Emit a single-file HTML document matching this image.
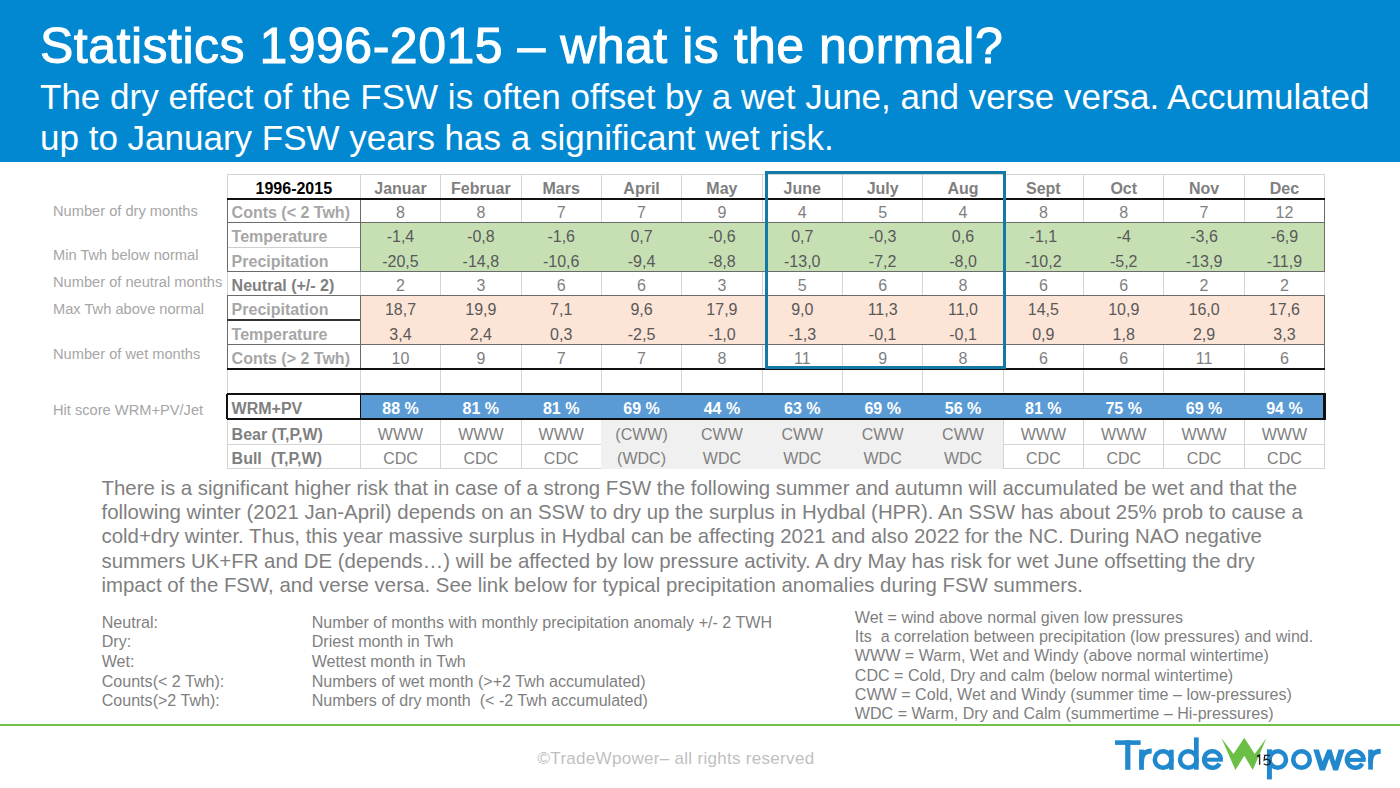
<!DOCTYPE html>
<html><head><meta charset="utf-8">
<style>
html,body{margin:0;padding:0;}
body{width:1400px;height:788px;position:relative;overflow:hidden;background:#fff;font-family:"Liberation Sans",sans-serif;}
.b{position:absolute;}
.t{position:absolute;font-size:16px;line-height:20px;white-space:nowrap;}
.a{position:absolute;white-space:nowrap;}
#hdr{position:absolute;left:0;top:0;width:1400px;height:162px;background:#0288d1;}
</style></head><body>
<div id="hdr"></div>
<div class="a" style="left:40px;top:16.4px;font-size:50px;line-height:60px;letter-spacing:0.5px;color:#fff;-webkit-text-stroke:1px #fff">Statistics 1996-2015 – what is the normal?</div>
<div class="a" style="left:40px;top:76.4px;font-size:35px;line-height:41px;color:#fff">The dry effect of the FSW is often offset by a wet June, and verse versa. Accumulated<br>up to January FSW years has a significant wet risk.</div>

<div class="a" style="left:53px;top:201px;font-size:14.65px;line-height:20px;color:#a6a6a6">Number of dry months</div>
<div class="a" style="left:53px;top:245.2px;font-size:14.65px;line-height:20px;color:#a6a6a6">Min Twh below normal</div>
<div class="a" style="left:53px;top:271.6px;font-size:14.65px;line-height:20px;color:#a6a6a6">Number of neutral months</div>
<div class="a" style="left:53px;top:298.5px;font-size:14.65px;line-height:20px;color:#a6a6a6">Max Twh above normal</div>
<div class="a" style="left:53px;top:343.8px;font-size:14.65px;line-height:20px;color:#a6a6a6">Number of wet months</div>
<div class="a" style="left:53px;top:400px;font-size:14.65px;line-height:20px;color:#a6a6a6">Hit score WRM+PV/Jet</div>

<div class="b" style="left:360.30px;top:222.50px;width:964.32px;height:49.00px;background:#c6e0b4"></div>
<div class="b" style="left:360.30px;top:295.50px;width:964.32px;height:49.00px;background:#fce4d6"></div>
<div class="b" style="left:360.30px;top:394.00px;width:964.32px;height:25.00px;background:#5b9bd5"></div>
<div class="b" style="left:601.38px;top:419.00px;width:401.80px;height:49.50px;background:#f0f0f0"></div>
<div class="b" style="left:227.30px;top:173.50px;width:1097.32px;height:1.00px;background:#d4d4d4"></div>
<div class="b" style="left:226.80px;top:174.00px;width:1.00px;height:24.50px;background:#d4d4d4"></div>
<div class="b" style="left:359.80px;top:174.00px;width:1.00px;height:24.50px;background:#d4d4d4"></div>
<div class="b" style="left:440.16px;top:174.00px;width:1.00px;height:24.50px;background:#d4d4d4"></div>
<div class="b" style="left:520.52px;top:174.00px;width:1.00px;height:24.50px;background:#d4d4d4"></div>
<div class="b" style="left:600.88px;top:174.00px;width:1.00px;height:24.50px;background:#d4d4d4"></div>
<div class="b" style="left:681.24px;top:174.00px;width:1.00px;height:24.50px;background:#d4d4d4"></div>
<div class="b" style="left:761.60px;top:174.00px;width:1.00px;height:24.50px;background:#d4d4d4"></div>
<div class="b" style="left:841.96px;top:174.00px;width:1.00px;height:24.50px;background:#d4d4d4"></div>
<div class="b" style="left:922.32px;top:174.00px;width:1.00px;height:24.50px;background:#d4d4d4"></div>
<div class="b" style="left:1002.68px;top:174.00px;width:1.00px;height:24.50px;background:#d4d4d4"></div>
<div class="b" style="left:1083.04px;top:174.00px;width:1.00px;height:24.50px;background:#d4d4d4"></div>
<div class="b" style="left:1163.40px;top:174.00px;width:1.00px;height:24.50px;background:#d4d4d4"></div>
<div class="b" style="left:1243.76px;top:174.00px;width:1.00px;height:24.50px;background:#d4d4d4"></div>
<div class="b" style="left:1324.12px;top:174.00px;width:1.00px;height:24.50px;background:#d4d4d4"></div>
<div class="b" style="left:226.80px;top:198.50px;width:1.00px;height:24.00px;background:#d4d4d4"></div>
<div class="b" style="left:359.80px;top:198.50px;width:1.00px;height:24.00px;background:#d4d4d4"></div>
<div class="b" style="left:440.16px;top:198.50px;width:1.00px;height:24.00px;background:#d4d4d4"></div>
<div class="b" style="left:520.52px;top:198.50px;width:1.00px;height:24.00px;background:#d4d4d4"></div>
<div class="b" style="left:600.88px;top:198.50px;width:1.00px;height:24.00px;background:#d4d4d4"></div>
<div class="b" style="left:681.24px;top:198.50px;width:1.00px;height:24.00px;background:#d4d4d4"></div>
<div class="b" style="left:761.60px;top:198.50px;width:1.00px;height:24.00px;background:#d4d4d4"></div>
<div class="b" style="left:841.96px;top:198.50px;width:1.00px;height:24.00px;background:#d4d4d4"></div>
<div class="b" style="left:922.32px;top:198.50px;width:1.00px;height:24.00px;background:#d4d4d4"></div>
<div class="b" style="left:1002.68px;top:198.50px;width:1.00px;height:24.00px;background:#d4d4d4"></div>
<div class="b" style="left:1083.04px;top:198.50px;width:1.00px;height:24.00px;background:#d4d4d4"></div>
<div class="b" style="left:1163.40px;top:198.50px;width:1.00px;height:24.00px;background:#d4d4d4"></div>
<div class="b" style="left:1243.76px;top:198.50px;width:1.00px;height:24.00px;background:#d4d4d4"></div>
<div class="b" style="left:1324.12px;top:198.50px;width:1.00px;height:24.00px;background:#d4d4d4"></div>
<div class="b" style="left:226.80px;top:271.50px;width:1.00px;height:24.00px;background:#d4d4d4"></div>
<div class="b" style="left:359.80px;top:271.50px;width:1.00px;height:24.00px;background:#d4d4d4"></div>
<div class="b" style="left:440.16px;top:271.50px;width:1.00px;height:24.00px;background:#d4d4d4"></div>
<div class="b" style="left:520.52px;top:271.50px;width:1.00px;height:24.00px;background:#d4d4d4"></div>
<div class="b" style="left:600.88px;top:271.50px;width:1.00px;height:24.00px;background:#d4d4d4"></div>
<div class="b" style="left:681.24px;top:271.50px;width:1.00px;height:24.00px;background:#d4d4d4"></div>
<div class="b" style="left:761.60px;top:271.50px;width:1.00px;height:24.00px;background:#d4d4d4"></div>
<div class="b" style="left:841.96px;top:271.50px;width:1.00px;height:24.00px;background:#d4d4d4"></div>
<div class="b" style="left:922.32px;top:271.50px;width:1.00px;height:24.00px;background:#d4d4d4"></div>
<div class="b" style="left:1002.68px;top:271.50px;width:1.00px;height:24.00px;background:#d4d4d4"></div>
<div class="b" style="left:1083.04px;top:271.50px;width:1.00px;height:24.00px;background:#d4d4d4"></div>
<div class="b" style="left:1163.40px;top:271.50px;width:1.00px;height:24.00px;background:#d4d4d4"></div>
<div class="b" style="left:1243.76px;top:271.50px;width:1.00px;height:24.00px;background:#d4d4d4"></div>
<div class="b" style="left:1324.12px;top:271.50px;width:1.00px;height:24.00px;background:#d4d4d4"></div>
<div class="b" style="left:226.80px;top:344.50px;width:1.00px;height:24.50px;background:#d4d4d4"></div>
<div class="b" style="left:359.80px;top:344.50px;width:1.00px;height:24.50px;background:#d4d4d4"></div>
<div class="b" style="left:440.16px;top:344.50px;width:1.00px;height:24.50px;background:#d4d4d4"></div>
<div class="b" style="left:520.52px;top:344.50px;width:1.00px;height:24.50px;background:#d4d4d4"></div>
<div class="b" style="left:600.88px;top:344.50px;width:1.00px;height:24.50px;background:#d4d4d4"></div>
<div class="b" style="left:681.24px;top:344.50px;width:1.00px;height:24.50px;background:#d4d4d4"></div>
<div class="b" style="left:761.60px;top:344.50px;width:1.00px;height:24.50px;background:#d4d4d4"></div>
<div class="b" style="left:841.96px;top:344.50px;width:1.00px;height:24.50px;background:#d4d4d4"></div>
<div class="b" style="left:922.32px;top:344.50px;width:1.00px;height:24.50px;background:#d4d4d4"></div>
<div class="b" style="left:1002.68px;top:344.50px;width:1.00px;height:24.50px;background:#d4d4d4"></div>
<div class="b" style="left:1083.04px;top:344.50px;width:1.00px;height:24.50px;background:#d4d4d4"></div>
<div class="b" style="left:1163.40px;top:344.50px;width:1.00px;height:24.50px;background:#d4d4d4"></div>
<div class="b" style="left:1243.76px;top:344.50px;width:1.00px;height:24.50px;background:#d4d4d4"></div>
<div class="b" style="left:1324.12px;top:344.50px;width:1.00px;height:24.50px;background:#d4d4d4"></div>
<div class="b" style="left:226.80px;top:369.00px;width:1.00px;height:25.00px;background:#d4d4d4"></div>
<div class="b" style="left:359.80px;top:369.00px;width:1.00px;height:25.00px;background:#d4d4d4"></div>
<div class="b" style="left:440.16px;top:369.00px;width:1.00px;height:25.00px;background:#d4d4d4"></div>
<div class="b" style="left:520.52px;top:369.00px;width:1.00px;height:25.00px;background:#d4d4d4"></div>
<div class="b" style="left:600.88px;top:369.00px;width:1.00px;height:25.00px;background:#d4d4d4"></div>
<div class="b" style="left:681.24px;top:369.00px;width:1.00px;height:25.00px;background:#d4d4d4"></div>
<div class="b" style="left:761.60px;top:369.00px;width:1.00px;height:25.00px;background:#d4d4d4"></div>
<div class="b" style="left:841.96px;top:369.00px;width:1.00px;height:25.00px;background:#d4d4d4"></div>
<div class="b" style="left:922.32px;top:369.00px;width:1.00px;height:25.00px;background:#d4d4d4"></div>
<div class="b" style="left:1002.68px;top:369.00px;width:1.00px;height:25.00px;background:#d4d4d4"></div>
<div class="b" style="left:1083.04px;top:369.00px;width:1.00px;height:25.00px;background:#d4d4d4"></div>
<div class="b" style="left:1163.40px;top:369.00px;width:1.00px;height:25.00px;background:#d4d4d4"></div>
<div class="b" style="left:1243.76px;top:369.00px;width:1.00px;height:25.00px;background:#d4d4d4"></div>
<div class="b" style="left:1324.12px;top:369.00px;width:1.00px;height:25.00px;background:#d4d4d4"></div>
<div class="b" style="left:226.80px;top:419.00px;width:1.00px;height:25.50px;background:#d4d4d4"></div>
<div class="b" style="left:359.80px;top:419.00px;width:1.00px;height:25.50px;background:#d4d4d4"></div>
<div class="b" style="left:440.16px;top:419.00px;width:1.00px;height:25.50px;background:#d4d4d4"></div>
<div class="b" style="left:520.52px;top:419.00px;width:1.00px;height:25.50px;background:#d4d4d4"></div>
<div class="b" style="left:922.32px;top:419.00px;width:1.00px;height:25.50px;background:#d4d4d4"></div>
<div class="b" style="left:1002.68px;top:419.00px;width:1.00px;height:25.50px;background:#d4d4d4"></div>
<div class="b" style="left:1083.04px;top:419.00px;width:1.00px;height:25.50px;background:#d4d4d4"></div>
<div class="b" style="left:1163.40px;top:419.00px;width:1.00px;height:25.50px;background:#d4d4d4"></div>
<div class="b" style="left:1243.76px;top:419.00px;width:1.00px;height:25.50px;background:#d4d4d4"></div>
<div class="b" style="left:1324.12px;top:419.00px;width:1.00px;height:25.50px;background:#d4d4d4"></div>
<div class="b" style="left:226.80px;top:444.50px;width:1.00px;height:24.00px;background:#d4d4d4"></div>
<div class="b" style="left:359.80px;top:444.50px;width:1.00px;height:24.00px;background:#d4d4d4"></div>
<div class="b" style="left:440.16px;top:444.50px;width:1.00px;height:24.00px;background:#d4d4d4"></div>
<div class="b" style="left:520.52px;top:444.50px;width:1.00px;height:24.00px;background:#d4d4d4"></div>
<div class="b" style="left:922.32px;top:444.50px;width:1.00px;height:24.00px;background:#d4d4d4"></div>
<div class="b" style="left:1002.68px;top:444.50px;width:1.00px;height:24.00px;background:#d4d4d4"></div>
<div class="b" style="left:1083.04px;top:444.50px;width:1.00px;height:24.00px;background:#d4d4d4"></div>
<div class="b" style="left:1163.40px;top:444.50px;width:1.00px;height:24.00px;background:#d4d4d4"></div>
<div class="b" style="left:1243.76px;top:444.50px;width:1.00px;height:24.00px;background:#d4d4d4"></div>
<div class="b" style="left:1324.12px;top:444.50px;width:1.00px;height:24.00px;background:#d4d4d4"></div>
<div class="b" style="left:227.30px;top:444.00px;width:1097.32px;height:1.00px;background:#d4d4d4"></div>
<div class="b" style="left:227.30px;top:444.00px;width:374.08px;height:1.00px;background:#d4d4d4"></div>
<div class="b" style="left:227.30px;top:468.00px;width:1097.32px;height:1.00px;background:#d4d4d4"></div>
<div class="b" style="left:227.30px;top:246.50px;width:133.00px;height:1.00px;background:#cfcfcf"></div>
<div class="b" style="left:226.65px;top:198.50px;width:1.30px;height:24.00px;background:#6b6b6b"></div>
<div class="b" style="left:359.65px;top:198.50px;width:1.30px;height:24.00px;background:#6b6b6b"></div>
<div class="b" style="left:1323.97px;top:198.50px;width:1.30px;height:24.00px;background:#6b6b6b"></div>
<div class="b" style="left:226.65px;top:222.50px;width:1.30px;height:49.00px;background:#6b6b6b"></div>
<div class="b" style="left:359.65px;top:222.50px;width:1.30px;height:49.00px;background:#6b6b6b"></div>
<div class="b" style="left:1323.97px;top:222.50px;width:1.30px;height:49.00px;background:#6b6b6b"></div>
<div class="b" style="left:226.65px;top:295.50px;width:1.30px;height:49.00px;background:#6b6b6b"></div>
<div class="b" style="left:359.65px;top:295.50px;width:1.30px;height:49.00px;background:#6b6b6b"></div>
<div class="b" style="left:1323.97px;top:295.50px;width:1.30px;height:49.00px;background:#6b6b6b"></div>
<div class="b" style="left:226.65px;top:344.50px;width:1.30px;height:24.50px;background:#6b6b6b"></div>
<div class="b" style="left:359.65px;top:344.50px;width:1.30px;height:24.50px;background:#6b6b6b"></div>
<div class="b" style="left:1323.97px;top:344.50px;width:1.30px;height:24.50px;background:#6b6b6b"></div>
<div class="b" style="left:227.30px;top:221.80px;width:1097.32px;height:1.40px;background:#6b6b6b"></div>
<div class="b" style="left:227.30px;top:270.80px;width:1097.32px;height:1.40px;background:#6b6b6b"></div>
<div class="b" style="left:227.30px;top:294.80px;width:1097.32px;height:1.40px;background:#6b6b6b"></div>
<div class="b" style="left:227.30px;top:343.80px;width:1097.32px;height:1.40px;background:#6b6b6b"></div>
<div class="b" style="left:227.30px;top:319.20px;width:133.00px;height:1.60px;background:#333"></div>
<div class="b" style="left:227.30px;top:197.50px;width:1097.32px;height:2.00px;background:#111"></div>
<div class="b" style="left:227.30px;top:368.00px;width:1097.32px;height:2.00px;background:#111"></div>
<div class="b" style="left:227.30px;top:393.00px;width:1098.32px;height:2.00px;background:#111"></div>
<div class="b" style="left:227.30px;top:417.90px;width:1098.32px;height:2.20px;background:#111"></div>
<div class="b" style="left:226.30px;top:394.00px;width:2.00px;height:25.00px;background:#111"></div>
<div class="b" style="left:359.55px;top:394.00px;width:1.50px;height:25.00px;background:#111"></div>
<div class="b" style="left:1323.37px;top:394.00px;width:2.50px;height:25.00px;background:#111"></div>
<div class="b" style="left:601.38px;top:420.10px;width:401.80px;height:48.90px;background:#f0f0f0"></div>
<div class="t" style="left:227.30px;width:133.00px;top:178.96px;color:#000;font-weight:bold;text-align:center">1996-2015</div>
<div class="t" style="left:360.30px;width:80.36px;top:178.96px;color:#7f7f7f;font-weight:bold;text-align:center">Januar</div>
<div class="t" style="left:440.66px;width:80.36px;top:178.96px;color:#7f7f7f;font-weight:bold;text-align:center">Februar</div>
<div class="t" style="left:521.02px;width:80.36px;top:178.96px;color:#7f7f7f;font-weight:bold;text-align:center">Mars</div>
<div class="t" style="left:601.38px;width:80.36px;top:178.96px;color:#7f7f7f;font-weight:bold;text-align:center">April</div>
<div class="t" style="left:681.74px;width:80.36px;top:178.96px;color:#7f7f7f;font-weight:bold;text-align:center">May</div>
<div class="t" style="left:762.10px;width:80.36px;top:178.96px;color:#7f7f7f;font-weight:bold;text-align:center">June</div>
<div class="t" style="left:842.46px;width:80.36px;top:178.96px;color:#7f7f7f;font-weight:bold;text-align:center">July</div>
<div class="t" style="left:922.82px;width:80.36px;top:178.96px;color:#7f7f7f;font-weight:bold;text-align:center">Aug</div>
<div class="t" style="left:1003.18px;width:80.36px;top:178.96px;color:#7f7f7f;font-weight:bold;text-align:center">Sept</div>
<div class="t" style="left:1083.54px;width:80.36px;top:178.96px;color:#7f7f7f;font-weight:bold;text-align:center">Oct</div>
<div class="t" style="left:1163.90px;width:80.36px;top:178.96px;color:#7f7f7f;font-weight:bold;text-align:center">Nov</div>
<div class="t" style="left:1244.26px;width:80.36px;top:178.96px;color:#7f7f7f;font-weight:bold;text-align:center">Dec</div>
<div class="t" style="left:231.60px;top:202.96px;color:#a6a6a6;font-weight:bold">Conts (< 2 Twh)</div>
<div class="t" style="left:360.30px;width:80.36px;top:202.96px;color:#7f7f7f;font-weight:normal;text-align:center">8</div>
<div class="t" style="left:440.66px;width:80.36px;top:202.96px;color:#7f7f7f;font-weight:normal;text-align:center">8</div>
<div class="t" style="left:521.02px;width:80.36px;top:202.96px;color:#7f7f7f;font-weight:normal;text-align:center">7</div>
<div class="t" style="left:601.38px;width:80.36px;top:202.96px;color:#7f7f7f;font-weight:normal;text-align:center">7</div>
<div class="t" style="left:681.74px;width:80.36px;top:202.96px;color:#7f7f7f;font-weight:normal;text-align:center">9</div>
<div class="t" style="left:762.10px;width:80.36px;top:202.96px;color:#7f7f7f;font-weight:normal;text-align:center">4</div>
<div class="t" style="left:842.46px;width:80.36px;top:202.96px;color:#7f7f7f;font-weight:normal;text-align:center">5</div>
<div class="t" style="left:922.82px;width:80.36px;top:202.96px;color:#7f7f7f;font-weight:normal;text-align:center">4</div>
<div class="t" style="left:1003.18px;width:80.36px;top:202.96px;color:#7f7f7f;font-weight:normal;text-align:center">8</div>
<div class="t" style="left:1083.54px;width:80.36px;top:202.96px;color:#7f7f7f;font-weight:normal;text-align:center">8</div>
<div class="t" style="left:1163.90px;width:80.36px;top:202.96px;color:#7f7f7f;font-weight:normal;text-align:center">7</div>
<div class="t" style="left:1244.26px;width:80.36px;top:202.96px;color:#7f7f7f;font-weight:normal;text-align:center">12</div>
<div class="t" style="left:231.60px;top:227.46px;color:#a6a6a6;font-weight:bold">Temperature</div>
<div class="t" style="left:360.30px;width:80.36px;top:227.46px;color:#595959;font-weight:normal;text-align:center">-1,4</div>
<div class="t" style="left:440.66px;width:80.36px;top:227.46px;color:#595959;font-weight:normal;text-align:center">-0,8</div>
<div class="t" style="left:521.02px;width:80.36px;top:227.46px;color:#595959;font-weight:normal;text-align:center">-1,6</div>
<div class="t" style="left:601.38px;width:80.36px;top:227.46px;color:#595959;font-weight:normal;text-align:center">0,7</div>
<div class="t" style="left:681.74px;width:80.36px;top:227.46px;color:#595959;font-weight:normal;text-align:center">-0,6</div>
<div class="t" style="left:762.10px;width:80.36px;top:227.46px;color:#595959;font-weight:normal;text-align:center">0,7</div>
<div class="t" style="left:842.46px;width:80.36px;top:227.46px;color:#595959;font-weight:normal;text-align:center">-0,3</div>
<div class="t" style="left:922.82px;width:80.36px;top:227.46px;color:#595959;font-weight:normal;text-align:center">0,6</div>
<div class="t" style="left:1003.18px;width:80.36px;top:227.46px;color:#595959;font-weight:normal;text-align:center">-1,1</div>
<div class="t" style="left:1083.54px;width:80.36px;top:227.46px;color:#595959;font-weight:normal;text-align:center">-4</div>
<div class="t" style="left:1163.90px;width:80.36px;top:227.46px;color:#595959;font-weight:normal;text-align:center">-3,6</div>
<div class="t" style="left:1244.26px;width:80.36px;top:227.46px;color:#595959;font-weight:normal;text-align:center">-6,9</div>
<div class="t" style="left:231.60px;top:251.96px;color:#a6a6a6;font-weight:bold">Precipitation</div>
<div class="t" style="left:360.30px;width:80.36px;top:251.96px;color:#595959;font-weight:normal;text-align:center">-20,5</div>
<div class="t" style="left:440.66px;width:80.36px;top:251.96px;color:#595959;font-weight:normal;text-align:center">-14,8</div>
<div class="t" style="left:521.02px;width:80.36px;top:251.96px;color:#595959;font-weight:normal;text-align:center">-10,6</div>
<div class="t" style="left:601.38px;width:80.36px;top:251.96px;color:#595959;font-weight:normal;text-align:center">-9,4</div>
<div class="t" style="left:681.74px;width:80.36px;top:251.96px;color:#595959;font-weight:normal;text-align:center">-8,8</div>
<div class="t" style="left:762.10px;width:80.36px;top:251.96px;color:#595959;font-weight:normal;text-align:center">-13,0</div>
<div class="t" style="left:842.46px;width:80.36px;top:251.96px;color:#595959;font-weight:normal;text-align:center">-7,2</div>
<div class="t" style="left:922.82px;width:80.36px;top:251.96px;color:#595959;font-weight:normal;text-align:center">-8,0</div>
<div class="t" style="left:1003.18px;width:80.36px;top:251.96px;color:#595959;font-weight:normal;text-align:center">-10,2</div>
<div class="t" style="left:1083.54px;width:80.36px;top:251.96px;color:#595959;font-weight:normal;text-align:center">-5,2</div>
<div class="t" style="left:1163.90px;width:80.36px;top:251.96px;color:#595959;font-weight:normal;text-align:center">-13,9</div>
<div class="t" style="left:1244.26px;width:80.36px;top:251.96px;color:#595959;font-weight:normal;text-align:center">-11,9</div>
<div class="t" style="left:231.60px;top:275.96px;color:#7f7f7f;font-weight:bold">Neutral (+/- 2)</div>
<div class="t" style="left:360.30px;width:80.36px;top:275.96px;color:#7f7f7f;font-weight:normal;text-align:center">2</div>
<div class="t" style="left:440.66px;width:80.36px;top:275.96px;color:#7f7f7f;font-weight:normal;text-align:center">3</div>
<div class="t" style="left:521.02px;width:80.36px;top:275.96px;color:#7f7f7f;font-weight:normal;text-align:center">6</div>
<div class="t" style="left:601.38px;width:80.36px;top:275.96px;color:#7f7f7f;font-weight:normal;text-align:center">6</div>
<div class="t" style="left:681.74px;width:80.36px;top:275.96px;color:#7f7f7f;font-weight:normal;text-align:center">3</div>
<div class="t" style="left:762.10px;width:80.36px;top:275.96px;color:#7f7f7f;font-weight:normal;text-align:center">5</div>
<div class="t" style="left:842.46px;width:80.36px;top:275.96px;color:#7f7f7f;font-weight:normal;text-align:center">6</div>
<div class="t" style="left:922.82px;width:80.36px;top:275.96px;color:#7f7f7f;font-weight:normal;text-align:center">8</div>
<div class="t" style="left:1003.18px;width:80.36px;top:275.96px;color:#7f7f7f;font-weight:normal;text-align:center">6</div>
<div class="t" style="left:1083.54px;width:80.36px;top:275.96px;color:#7f7f7f;font-weight:normal;text-align:center">6</div>
<div class="t" style="left:1163.90px;width:80.36px;top:275.96px;color:#7f7f7f;font-weight:normal;text-align:center">2</div>
<div class="t" style="left:1244.26px;width:80.36px;top:275.96px;color:#7f7f7f;font-weight:normal;text-align:center">2</div>
<div class="t" style="left:231.60px;top:300.46px;color:#a6a6a6;font-weight:bold">Precipitation</div>
<div class="t" style="left:360.30px;width:80.36px;top:300.46px;color:#595959;font-weight:normal;text-align:center">18,7</div>
<div class="t" style="left:440.66px;width:80.36px;top:300.46px;color:#595959;font-weight:normal;text-align:center">19,9</div>
<div class="t" style="left:521.02px;width:80.36px;top:300.46px;color:#595959;font-weight:normal;text-align:center">7,1</div>
<div class="t" style="left:601.38px;width:80.36px;top:300.46px;color:#595959;font-weight:normal;text-align:center">9,6</div>
<div class="t" style="left:681.74px;width:80.36px;top:300.46px;color:#595959;font-weight:normal;text-align:center">17,9</div>
<div class="t" style="left:762.10px;width:80.36px;top:300.46px;color:#595959;font-weight:normal;text-align:center">9,0</div>
<div class="t" style="left:842.46px;width:80.36px;top:300.46px;color:#595959;font-weight:normal;text-align:center">11,3</div>
<div class="t" style="left:922.82px;width:80.36px;top:300.46px;color:#595959;font-weight:normal;text-align:center">11,0</div>
<div class="t" style="left:1003.18px;width:80.36px;top:300.46px;color:#595959;font-weight:normal;text-align:center">14,5</div>
<div class="t" style="left:1083.54px;width:80.36px;top:300.46px;color:#595959;font-weight:normal;text-align:center">10,9</div>
<div class="t" style="left:1163.90px;width:80.36px;top:300.46px;color:#595959;font-weight:normal;text-align:center">16,0</div>
<div class="t" style="left:1244.26px;width:80.36px;top:300.46px;color:#595959;font-weight:normal;text-align:center">17,6</div>
<div class="t" style="left:231.60px;top:324.96px;color:#a6a6a6;font-weight:bold">Temperature</div>
<div class="t" style="left:360.30px;width:80.36px;top:324.96px;color:#595959;font-weight:normal;text-align:center">3,4</div>
<div class="t" style="left:440.66px;width:80.36px;top:324.96px;color:#595959;font-weight:normal;text-align:center">2,4</div>
<div class="t" style="left:521.02px;width:80.36px;top:324.96px;color:#595959;font-weight:normal;text-align:center">0,3</div>
<div class="t" style="left:601.38px;width:80.36px;top:324.96px;color:#595959;font-weight:normal;text-align:center">-2,5</div>
<div class="t" style="left:681.74px;width:80.36px;top:324.96px;color:#595959;font-weight:normal;text-align:center">-1,0</div>
<div class="t" style="left:762.10px;width:80.36px;top:324.96px;color:#595959;font-weight:normal;text-align:center">-1,3</div>
<div class="t" style="left:842.46px;width:80.36px;top:324.96px;color:#595959;font-weight:normal;text-align:center">-0,1</div>
<div class="t" style="left:922.82px;width:80.36px;top:324.96px;color:#595959;font-weight:normal;text-align:center">-0,1</div>
<div class="t" style="left:1003.18px;width:80.36px;top:324.96px;color:#595959;font-weight:normal;text-align:center">0,9</div>
<div class="t" style="left:1083.54px;width:80.36px;top:324.96px;color:#595959;font-weight:normal;text-align:center">1,8</div>
<div class="t" style="left:1163.90px;width:80.36px;top:324.96px;color:#595959;font-weight:normal;text-align:center">2,9</div>
<div class="t" style="left:1244.26px;width:80.36px;top:324.96px;color:#595959;font-weight:normal;text-align:center">3,3</div>
<div class="t" style="left:231.60px;top:349.46px;color:#a6a6a6;font-weight:bold">Conts (> 2 Twh)</div>
<div class="t" style="left:360.30px;width:80.36px;top:349.46px;color:#7f7f7f;font-weight:normal;text-align:center">10</div>
<div class="t" style="left:440.66px;width:80.36px;top:349.46px;color:#7f7f7f;font-weight:normal;text-align:center">9</div>
<div class="t" style="left:521.02px;width:80.36px;top:349.46px;color:#7f7f7f;font-weight:normal;text-align:center">7</div>
<div class="t" style="left:601.38px;width:80.36px;top:349.46px;color:#7f7f7f;font-weight:normal;text-align:center">7</div>
<div class="t" style="left:681.74px;width:80.36px;top:349.46px;color:#7f7f7f;font-weight:normal;text-align:center">8</div>
<div class="t" style="left:762.10px;width:80.36px;top:349.46px;color:#7f7f7f;font-weight:normal;text-align:center">11</div>
<div class="t" style="left:842.46px;width:80.36px;top:349.46px;color:#7f7f7f;font-weight:normal;text-align:center">9</div>
<div class="t" style="left:922.82px;width:80.36px;top:349.46px;color:#7f7f7f;font-weight:normal;text-align:center">8</div>
<div class="t" style="left:1003.18px;width:80.36px;top:349.46px;color:#7f7f7f;font-weight:normal;text-align:center">6</div>
<div class="t" style="left:1083.54px;width:80.36px;top:349.46px;color:#7f7f7f;font-weight:normal;text-align:center">6</div>
<div class="t" style="left:1163.90px;width:80.36px;top:349.46px;color:#7f7f7f;font-weight:normal;text-align:center">11</div>
<div class="t" style="left:1244.26px;width:80.36px;top:349.46px;color:#7f7f7f;font-weight:normal;text-align:center">6</div>
<div class="t" style="left:231.60px;top:399.46px;color:#7f7f7f;font-weight:bold">WRM+PV</div>
<div class="t" style="left:360.30px;width:80.36px;top:399.46px;color:#fff;font-weight:bold;text-align:center">88 %</div>
<div class="t" style="left:440.66px;width:80.36px;top:399.46px;color:#fff;font-weight:bold;text-align:center">81 %</div>
<div class="t" style="left:521.02px;width:80.36px;top:399.46px;color:#fff;font-weight:bold;text-align:center">81 %</div>
<div class="t" style="left:601.38px;width:80.36px;top:399.46px;color:#fff;font-weight:bold;text-align:center">69 %</div>
<div class="t" style="left:681.74px;width:80.36px;top:399.46px;color:#fff;font-weight:bold;text-align:center">44 %</div>
<div class="t" style="left:762.10px;width:80.36px;top:399.46px;color:#fff;font-weight:bold;text-align:center">63 %</div>
<div class="t" style="left:842.46px;width:80.36px;top:399.46px;color:#fff;font-weight:bold;text-align:center">69 %</div>
<div class="t" style="left:922.82px;width:80.36px;top:399.46px;color:#fff;font-weight:bold;text-align:center">56 %</div>
<div class="t" style="left:1003.18px;width:80.36px;top:399.46px;color:#fff;font-weight:bold;text-align:center">81 %</div>
<div class="t" style="left:1083.54px;width:80.36px;top:399.46px;color:#fff;font-weight:bold;text-align:center">75 %</div>
<div class="t" style="left:1163.90px;width:80.36px;top:399.46px;color:#fff;font-weight:bold;text-align:center">69 %</div>
<div class="t" style="left:1244.26px;width:80.36px;top:399.46px;color:#fff;font-weight:bold;text-align:center">94 %</div>
<div class="t" style="left:231.60px;top:424.96px;color:#7f7f7f;font-weight:bold">Bear (T,P,W)</div>
<div class="t" style="left:360.30px;width:80.36px;top:424.96px;color:#7f7f7f;font-weight:normal;text-align:center">WWW</div>
<div class="t" style="left:440.66px;width:80.36px;top:424.96px;color:#7f7f7f;font-weight:normal;text-align:center">WWW</div>
<div class="t" style="left:521.02px;width:80.36px;top:424.96px;color:#7f7f7f;font-weight:normal;text-align:center">WWW</div>
<div class="t" style="left:601.38px;width:80.36px;top:424.96px;color:#7f7f7f;font-weight:normal;text-align:center">(CWW)</div>
<div class="t" style="left:681.74px;width:80.36px;top:424.96px;color:#7f7f7f;font-weight:normal;text-align:center">CWW</div>
<div class="t" style="left:762.10px;width:80.36px;top:424.96px;color:#7f7f7f;font-weight:normal;text-align:center">CWW</div>
<div class="t" style="left:842.46px;width:80.36px;top:424.96px;color:#7f7f7f;font-weight:normal;text-align:center">CWW</div>
<div class="t" style="left:922.82px;width:80.36px;top:424.96px;color:#7f7f7f;font-weight:normal;text-align:center">CWW</div>
<div class="t" style="left:1003.18px;width:80.36px;top:424.96px;color:#7f7f7f;font-weight:normal;text-align:center">WWW</div>
<div class="t" style="left:1083.54px;width:80.36px;top:424.96px;color:#7f7f7f;font-weight:normal;text-align:center">WWW</div>
<div class="t" style="left:1163.90px;width:80.36px;top:424.96px;color:#7f7f7f;font-weight:normal;text-align:center">WWW</div>
<div class="t" style="left:1244.26px;width:80.36px;top:424.96px;color:#7f7f7f;font-weight:normal;text-align:center">WWW</div>
<div class="t" style="left:231.60px;top:448.96px;color:#7f7f7f;font-weight:bold">Bull&nbsp; (T,P,W)</div>
<div class="t" style="left:360.30px;width:80.36px;top:448.96px;color:#7f7f7f;font-weight:normal;text-align:center">CDC</div>
<div class="t" style="left:440.66px;width:80.36px;top:448.96px;color:#7f7f7f;font-weight:normal;text-align:center">CDC</div>
<div class="t" style="left:521.02px;width:80.36px;top:448.96px;color:#7f7f7f;font-weight:normal;text-align:center">CDC</div>
<div class="t" style="left:601.38px;width:80.36px;top:448.96px;color:#7f7f7f;font-weight:normal;text-align:center">(WDC)</div>
<div class="t" style="left:681.74px;width:80.36px;top:448.96px;color:#7f7f7f;font-weight:normal;text-align:center">WDC</div>
<div class="t" style="left:762.10px;width:80.36px;top:448.96px;color:#7f7f7f;font-weight:normal;text-align:center">WDC</div>
<div class="t" style="left:842.46px;width:80.36px;top:448.96px;color:#7f7f7f;font-weight:normal;text-align:center">WDC</div>
<div class="t" style="left:922.82px;width:80.36px;top:448.96px;color:#7f7f7f;font-weight:normal;text-align:center">WDC</div>
<div class="t" style="left:1003.18px;width:80.36px;top:448.96px;color:#7f7f7f;font-weight:normal;text-align:center">CDC</div>
<div class="t" style="left:1083.54px;width:80.36px;top:448.96px;color:#7f7f7f;font-weight:normal;text-align:center">CDC</div>
<div class="t" style="left:1163.90px;width:80.36px;top:448.96px;color:#7f7f7f;font-weight:normal;text-align:center">CDC</div>
<div class="t" style="left:1244.26px;width:80.36px;top:448.96px;color:#7f7f7f;font-weight:normal;text-align:center">CDC</div>
<div class="b" style="left:765px;top:171px;width:240.7px;height:198px;border:3px solid #1479a6;box-sizing:border-box;background:transparent"></div>

<div class="a" style="left:101.5px;top:475.5px;font-size:20.4px;line-height:24.4px;color:#7f7f7f">There is a significant higher risk that in case of a strong FSW the following summer and autumn will accumulated be wet and that the<br>following winter (2021 Jan-April) depends on an SSW to dry up the surplus in Hydbal (HPR). An SSW has about 25% prob to cause a<br>cold+dry winter. Thus, this year massive surplus in Hydbal can be affecting 2021 and also 2022 for the NC. During NAO negative<br>summers UK+FR and DE (depends…) will be affected by low pressure activity. A dry May has risk for wet June offsetting the dry<br>impact of the FSW, and verse versa. See link below for typical precipitation anomalies during FSW summers.</div>

<div class="a" style="left:101.7px;top:612.9px;font-size:16.08px;line-height:19.6px;color:#7f7f7f">Neutral:<br>Dry:<br>Wet:<br>Counts(&lt; 2 Twh):<br>Counts(&gt;2 Twh):</div>
<div class="a" style="left:311.7px;top:612.9px;font-size:16.08px;line-height:19.6px;color:#7f7f7f">Number of months with monthly precipitation anomaly +/- 2 TWH<br>Driest month in Twh<br>Wettest month in Twh<br>Numbers of wet month (&gt;+2 Twh accumulated)<br>Numbers of dry month&nbsp; (&lt; -2 Twh accumulated)</div>
<div class="a" style="left:854.8px;top:607.9px;font-size:16.08px;line-height:19.3px;color:#7f7f7f">Wet = wind above normal given low pressures<br>Its&nbsp; a correlation between precipitation (low pressures) and wind.<br>WWW = Warm, Wet and Windy (above normal wintertime)<br>CDC = Cold, Dry and calm (below normal wintertime)<br>CWW = Cold, Wet and Windy (summer time – low-pressures)<br>WDC = Warm, Dry and Calm (summertime – Hi-pressures)</div>

<div class="b" style="left:0;top:724.3px;width:1400px;height:1.9px;background:#70c04a"></div>

<div class="a" style="left:537.5px;top:748.6px;font-size:17px;letter-spacing:0.3px;line-height:20px;color:#bfbfbf">©TradeWpower– all rights reserved</div>

<svg class="b" style="left:0;top:0" width="1400" height="788" viewBox="0 0 1400 788">
<g fill="#2288ce">
<rect x="1115" y="740.3" width="25.6" height="4.6"/><rect x="1125.2" y="740.3" width="5.2" height="29.5"/>
<rect x="1139.1" y="749.6" width="4.8" height="20.2"/>
<rect x="1169.1" y="749.7" width="4.6" height="20.1"/>
<rect x="1194" y="737.4" width="4.7" height="32.3"/>
<rect x="1266.9" y="749.3" width="5" height="30.1"/>
<rect x="1368.2" y="749.6" width="4.7" height="20"/>
<rect x="1205.9" y="757.7" width="17" height="4"/>
<rect x="1348.7" y="757.9" width="17" height="4"/>
<path d="M1313.3,749.6 L1318.9,749.6 L1322.5,761.3 L1327.3,749.6 L1331.5,749.6 L1335.1,761.3 L1338.6,749.6 L1344.6,749.6 L1338,770.6 L1333.3,770.6 L1329.2,758.6 L1324.9,770.6 L1319.8,770.6 Z"/>
</g>
<g fill="none" stroke="#2288ce" stroke-width="4.5">
<circle cx="1163.1" cy="759.5" r="8.25"/>
<circle cx="1188.3" cy="759.5" r="8.25"/>
<circle cx="1277.75" cy="759.5" r="8.2"/>
<circle cx="1301.5" cy="759.5" r="8.25"/>
<path d="M1220.65,759.5 A8.25,8.25 0 1 0 1219.55,763.6"/>
<path d="M1363.45,759.6 A8.25,8.25 0 1 0 1362.35,763.7"/>
<path d="M1141.5,763 C1141.5,754 1145,751 1151.7,751" stroke-width="5"/>
<path d="M1370.55,763 C1370.55,754 1374,751.2 1380.7,751.2" stroke-width="5"/>
</g>
<path d="M1221.4,738 L1233.5,754 L1244.3,737.7 L1254.7,754 L1266.5,738 L1252.8,770 L1244.3,755.8 L1235.4,770 Z" fill="#6cbf45"/>
</svg>
<svg class="b" style="left:0;top:0" width="1400" height="788" viewBox="0 0 1400 788"><path d="M1257,756.4 L1259.6,754.9 L1259.6,764.8 M1269.9,755.4 L1264.7,755.4 L1264.2,760 C1265.6,758.9 1270.1,758.6 1270.1,761.9 C1270.1,765.6 1265.1,765.3 1263.7,763.6" fill="none" stroke="#222" stroke-width="1.35"/></svg>
</body></html>
